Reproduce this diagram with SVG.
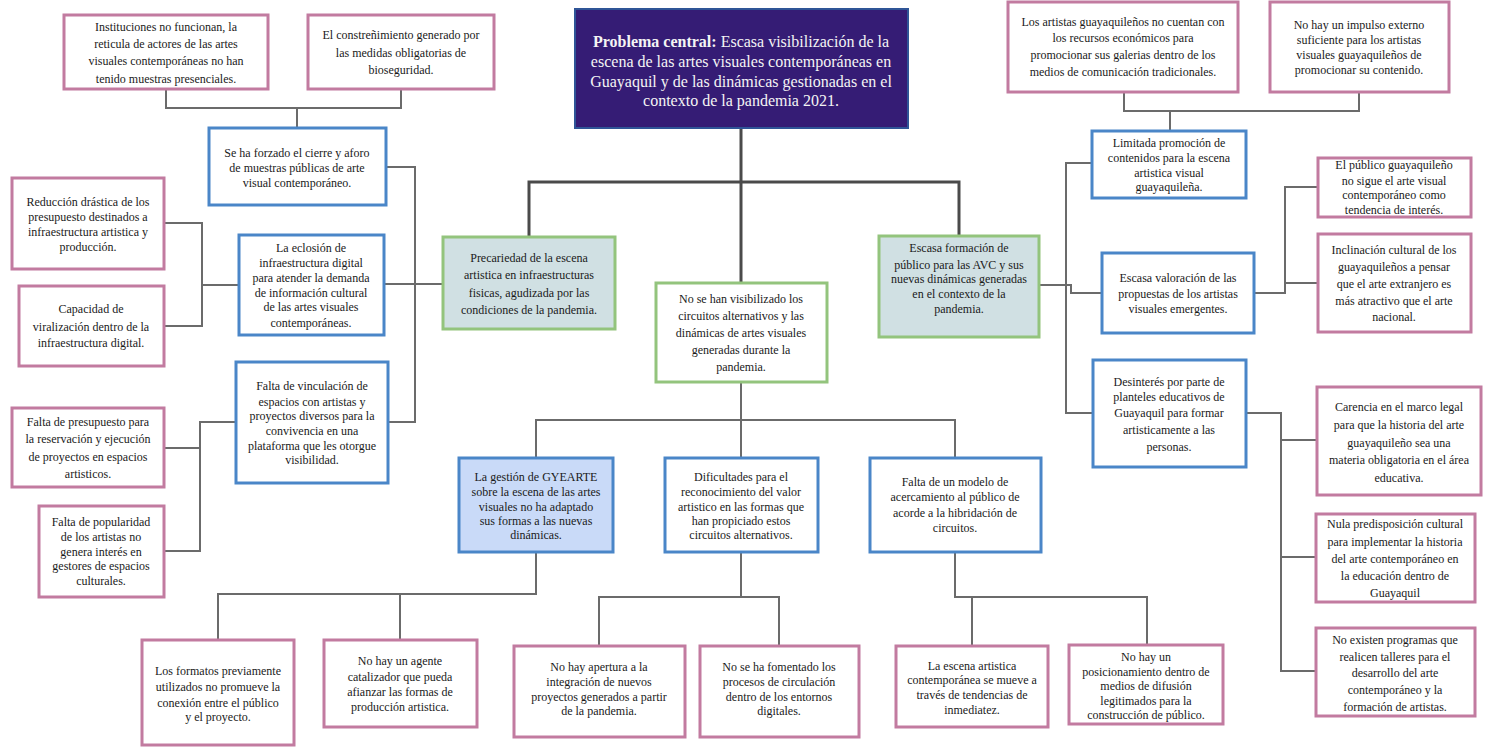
<svg xmlns="http://www.w3.org/2000/svg" width="1487" height="747" viewBox="0 0 1487 747">
<style>
.p{fill:#fff;stroke:#c27ba0;stroke-width:3}
.b{fill:#fff;stroke:#4a86c8;stroke-width:3}
.g{fill:#fff;stroke:#93c47d;stroke-width:3}
.gf{fill:#d0e0e3;stroke:#93c47d;stroke-width:3}
.lb{fill:#c9daf8;stroke:#4a86c8;stroke-width:3}
.t{font-family:"Liberation Serif","Times New Roman",serif;font-size:12px;fill:#1a1a1a;text-anchor:middle}
.ct{font-family:"Liberation Serif","Times New Roman",serif;font-size:16px;fill:#f4f4f4;text-anchor:middle}
.c{stroke:#6b6b6b;stroke-width:2;fill:none}
.tr{stroke:#4a4a4a;stroke-width:3;fill:none}
</style>
<rect width="1487" height="747" fill="#fff"/>
<g id="connectors">
<path class="tr" d="M741 128 V283"/>
<path class="tr" d="M529 237 V182 H959 V236"/>
<path class="c" d="M166 89 V108 H401 V89 M297 108 V128"/>
<path class="c" d="M386 167 H415 V422 H388"/>
<path class="c" d="M384 284 H443"/>
<path class="c" d="M164 223 H202 V326 H164 M202 285 H239"/>
<path class="c" d="M236 422 H200 V551 H164 M200 448 H164"/>
<path class="c" d="M741 382 V458 M536 458 V420 H955 V458"/>
<path class="c" d="M218 640 V594 H536 V552 M400 594 V640"/>
<path class="c" d="M741 552 V597 M599 646 V597 H779 V646"/>
<path class="c" d="M955 552 V597 H1147 V645 M972 597 V646"/>
<path class="c" d="M1124 92 V111 H1359 V92 M1170 111 V131"/>
<path class="c" d="M1092 163 H1066 V413 H1093"/>
<path class="c" d="M1039 285 H1071 V293 H1102"/>
<path class="c" d="M1318 187 H1285 V293 H1254 M1285 283 H1318"/>
<path class="c" d="M1246 413 H1281 V671 H1316 M1281 440 H1317 M1281 557 H1316"/>
</g>
<g id="n-central">
<rect x="575" y="9" width="333" height="119" fill="#351c75" stroke="#2f5597" stroke-width="2"/>
<text class="ct"><tspan x="741" y="47"><tspan font-weight="bold">Problema central:</tspan> Escasa visibilización de la</tspan><tspan x="741" y="67">escena de las artes visuales contemporáneas en</tspan><tspan x="741" y="87">Guayaquil y de las dinámicas gestionadas en el</tspan><tspan x="741" y="106">contexto de la pandemia 2021.</tspan></text>
</g>
<g id="n-instituciones">
<rect class="p" x="64" y="15" width="204" height="74"/>
<text class="t"><tspan x="166" y="31">Instituciones no funcionan, la</tspan><tspan x="166" y="48">reticula de actores de las artes</tspan><tspan x="166" y="65">visuales contemporáneas no han</tspan><tspan x="166" y="83">tenido muestras presenciales.</tspan></text>
</g>
<g id="n-constrenimiento">
<rect class="p" x="308" y="15" width="186" height="74"/>
<text class="t"><tspan x="401" y="39">El constreñimiento generado por</tspan><tspan x="401" y="57">las medidas obligatorias de</tspan><tspan x="401" y="74">bioseguridad.</tspan></text>
</g>
<g id="n-forzado">
<rect class="b" x="209" y="128" width="177" height="77"/>
<text class="t"><tspan x="297" y="157">Se ha forzado el cierre y aforo</tspan><tspan x="297" y="172">de muestras públicas de arte</tspan><tspan x="297" y="187">visual contemporáneo.</tspan></text>
</g>
<g id="n-reduccion">
<rect class="p" x="12" y="178" width="152" height="91"/>
<text class="t"><tspan x="88" y="206">Reducción drástica de los</tspan><tspan x="88" y="221">presupuesto destinados a</tspan><tspan x="88" y="236">infraestructura artistica y</tspan><tspan x="88" y="251">producción.</tspan></text>
</g>
<g id="n-eclosion">
<rect class="b" x="239" y="235" width="145" height="100"/>
<text class="t"><tspan x="311" y="252">La eclosión de</tspan><tspan x="311" y="267">infraestructura digital</tspan><tspan x="311" y="282">para atender la demanda</tspan><tspan x="311" y="297">de información cultural</tspan><tspan x="311" y="311">de las artes visuales</tspan><tspan x="311" y="327">contemporáneas.</tspan></text>
</g>
<g id="n-capacidad">
<rect class="p" x="19" y="286" width="145" height="80"/>
<text class="t"><tspan x="91" y="313">Capacidad de</tspan><tspan x="91" y="331">viralización dentro de la</tspan><tspan x="91" y="347">infraestructura digital.</tspan></text>
</g>
<g id="n-vinculacion">
<rect class="b" x="236" y="362" width="152" height="121"/>
<text class="t"><tspan x="312" y="390">Falta de vinculación de</tspan><tspan x="312" y="406">espacios con artistas y</tspan><tspan x="312" y="420">proyectos diversos para la</tspan><tspan x="312" y="435">convivencia en una</tspan><tspan x="312" y="450">plataforma que les otorgue</tspan><tspan x="312" y="464">visibilidad.</tspan></text>
</g>
<g id="n-presupuesto">
<rect class="p" x="12" y="408" width="152" height="79"/>
<text class="t"><tspan x="88" y="426">Falta de presupuesto para</tspan><tspan x="88" y="443">la reservación y ejecución</tspan><tspan x="88" y="461">de proyectos en espacios</tspan><tspan x="88" y="478">artisticos.</tspan></text>
</g>
<g id="n-popularidad">
<rect class="p" x="39" y="506" width="125" height="91"/>
<text class="t"><tspan x="101" y="526">Falta de popularidad</tspan><tspan x="101" y="541">de los artistas no</tspan><tspan x="101" y="556">genera interés en</tspan><tspan x="101" y="570">gestores de espacios</tspan><tspan x="101" y="585">culturales.</tspan></text>
</g>
<g id="n-precariedad">
<rect class="gf" x="443" y="237" width="172" height="92"/>
<text class="t"><tspan x="529" y="262">Precariedad de la escena</tspan><tspan x="529" y="279">artistica en infraestructuras</tspan><tspan x="529" y="297">fisicas, agudizada por las</tspan><tspan x="529" y="314">condiciones de la pandemia.</tspan></text>
</g>
<g id="n-visibilizado">
<rect class="g" x="656" y="283" width="171" height="99"/>
<text class="t"><tspan x="741" y="303">No se han visibilizado los</tspan><tspan x="741" y="320">circuitos alternativos y las</tspan><tspan x="741" y="337">dinámicas de artes visuales</tspan><tspan x="741" y="354">generadas durante la</tspan><tspan x="741" y="371">pandemia.</tspan></text>
</g>
<g id="n-formacion">
<rect class="gf" x="879" y="236" width="160" height="101"/>
<text class="t"><tspan x="959" y="252">Escasa formación de</tspan><tspan x="959" y="269">público para las AVC y sus</tspan><tspan x="959" y="283">nuevas dinámicas generadas</tspan><tspan x="959" y="298">en el contexto de la</tspan><tspan x="959" y="313">pandemia.</tspan></text>
</g>
<g id="n-gyearte">
<rect class="lb" x="459" y="458" width="154" height="94"/>
<text class="t"><tspan x="536" y="481">La gestión de GYEARTE</tspan><tspan x="536" y="496">sobre la escena de las artes</tspan><tspan x="536" y="511">visuales no ha adaptado</tspan><tspan x="536" y="525">sus formas a las nuevas</tspan><tspan x="536" y="539">dinámicas.</tspan></text>
</g>
<g id="n-dificultades">
<rect class="b" x="665" y="458" width="153" height="94"/>
<text class="t"><tspan x="741" y="481">Dificultades para el</tspan><tspan x="741" y="496">reconocimiento del valor</tspan><tspan x="741" y="511">artistico en las formas que</tspan><tspan x="741" y="525">han propiciado estos</tspan><tspan x="741" y="539">circuitos alternativos.</tspan></text>
</g>
<g id="n-modelo">
<rect class="b" x="870" y="458" width="171" height="94"/>
<text class="t"><tspan x="955" y="486">Falta de un modelo de</tspan><tspan x="955" y="501">acercamiento al público de</tspan><tspan x="955" y="517">acorde a la hibridación de</tspan><tspan x="955" y="532">circuitos.</tspan></text>
</g>
<g id="n-formatos">
<rect class="p" x="142" y="640" width="152" height="105"/>
<text class="t"><tspan x="218" y="675">Los formatos previamente</tspan><tspan x="218" y="691">utilizados no promueve la</tspan><tspan x="218" y="707">conexión entre el público</tspan><tspan x="218" y="721">y el proyecto.</tspan></text>
</g>
<g id="n-agente">
<rect class="p" x="324" y="640" width="153" height="87"/>
<text class="t"><tspan x="400" y="665">No hay un agente</tspan><tspan x="400" y="681">catalizador que pueda</tspan><tspan x="400" y="696">afianzar las formas de</tspan><tspan x="400" y="711">producción artistica.</tspan></text>
</g>
<g id="n-apertura">
<rect class="p" x="514" y="646" width="171" height="91"/>
<text class="t"><tspan x="599" y="671">No hay apertura a la</tspan><tspan x="599" y="686">integración de nuevos</tspan><tspan x="599" y="701">proyectos generados a partir</tspan><tspan x="599" y="715">de la pandemia.</tspan></text>
</g>
<g id="n-fomentado">
<rect class="p" x="700" y="646" width="159" height="91"/>
<text class="t"><tspan x="779" y="671">No se ha fomentado los</tspan><tspan x="779" y="686">procesos de circulación</tspan><tspan x="779" y="701">dentro de los entornos</tspan><tspan x="779" y="715">digitales.</tspan></text>
</g>
<g id="n-escena">
<rect class="p" x="896" y="646" width="152" height="81"/>
<text class="t"><tspan x="972" y="670">La escena artistica</tspan><tspan x="972" y="684">contemporánea se mueve a</tspan><tspan x="972" y="699">través de tendencias de</tspan><tspan x="972" y="714">inmediatez.</tspan></text>
</g>
<g id="n-posicionamiento">
<rect class="p" x="1069" y="645" width="154" height="79"/>
<text class="t"><tspan x="1146" y="661">No hay un</tspan><tspan x="1146" y="676">posicionamiento dentro de</tspan><tspan x="1146" y="690">medios de difusión</tspan><tspan x="1146" y="705">legitimados para la</tspan><tspan x="1146" y="719">construcción de público.</tspan></text>
</g>
<g id="n-artistas">
<rect class="p" x="1008" y="2" width="230" height="90"/>
<text class="t"><tspan x="1123" y="26">Los artistas guayaquileños no cuentan con</tspan><tspan x="1123" y="42">los recursos económicos para</tspan><tspan x="1123" y="59">promocionar sus galerias dentro de los</tspan><tspan x="1123" y="76">medios de comunicación tradicionales.</tspan></text>
</g>
<g id="n-impulso">
<rect class="p" x="1270" y="2" width="179" height="90"/>
<text class="t"><tspan x="1359" y="29">No hay un impulso externo</tspan><tspan x="1359" y="44">suficiente para los artistas</tspan><tspan x="1359" y="59">visuales guayaquileños de</tspan><tspan x="1359" y="74">promocionar su contenido.</tspan></text>
</g>
<g id="n-limitada">
<rect class="b" x="1092" y="131" width="154" height="67"/>
<text class="t"><tspan x="1169" y="147">Limitada promoción de</tspan><tspan x="1169" y="162">contenidos para la escena</tspan><tspan x="1169" y="177">artistica visual</tspan><tspan x="1169" y="191">guayaquileña.</tspan></text>
</g>
<g id="n-publico">
<rect class="p" x="1318" y="158" width="153" height="59"/>
<text class="t"><tspan x="1394" y="169">El público guayaquileño</tspan><tspan x="1394" y="185">no sigue el arte visual</tspan><tspan x="1394" y="199">contemporáneo como</tspan><tspan x="1394" y="214">tendencia de interés.</tspan></text>
</g>
<g id="n-inclinacion">
<rect class="p" x="1318" y="234" width="153" height="98"/>
<text class="t"><tspan x="1394" y="254">Inclinación cultural de los</tspan><tspan x="1394" y="271">guayaquileños a pensar</tspan><tspan x="1394" y="288">que el arte extranjero es</tspan><tspan x="1394" y="305">más atractivo que el arte</tspan><tspan x="1394" y="321">nacional.</tspan></text>
</g>
<g id="n-valoracion">
<rect class="b" x="1102" y="253" width="152" height="80"/>
<text class="t"><tspan x="1178" y="282">Escasa valoración de las</tspan><tspan x="1178" y="298">propuestas de los artistas</tspan><tspan x="1178" y="313">visuales emergentes.</tspan></text>
</g>
<g id="n-desinteres">
<rect class="b" x="1093" y="360" width="153" height="107"/>
<text class="t"><tspan x="1169" y="386">Desinterés por parte de</tspan><tspan x="1169" y="401">planteles educativos de</tspan><tspan x="1169" y="417">Guayaquil para formar</tspan><tspan x="1169" y="434">artisticamente a las</tspan><tspan x="1169" y="451">personas.</tspan></text>
</g>
<g id="n-carencia">
<rect class="p" x="1317" y="387" width="164" height="108"/>
<text class="t"><tspan x="1399" y="411">Carencia en el marco legal</tspan><tspan x="1399" y="429">para que la historia del arte</tspan><tspan x="1399" y="447">guayaquileño sea una</tspan><tspan x="1399" y="464">materia obligatoria en el área</tspan><tspan x="1399" y="482">educativa.</tspan></text>
</g>
<g id="n-nula">
<rect class="p" x="1316" y="514" width="159" height="88"/>
<text class="t"><tspan x="1395" y="528">Nula predisposición cultural</tspan><tspan x="1395" y="546">para implementar la historia</tspan><tspan x="1395" y="563">del arte contemporáneo en</tspan><tspan x="1395" y="580">la educación dentro de</tspan><tspan x="1395" y="597">Guayaquil</tspan></text>
</g>
<g id="n-programas">
<rect class="p" x="1316" y="628" width="159" height="88"/>
<text class="t"><tspan x="1395" y="644">No existen programas que</tspan><tspan x="1395" y="661">realicen talleres para el</tspan><tspan x="1395" y="677">desarrollo del arte</tspan><tspan x="1395" y="694">contemporáneo y la</tspan><tspan x="1395" y="711">formación de artistas.</tspan></text>
</g>
</svg>
